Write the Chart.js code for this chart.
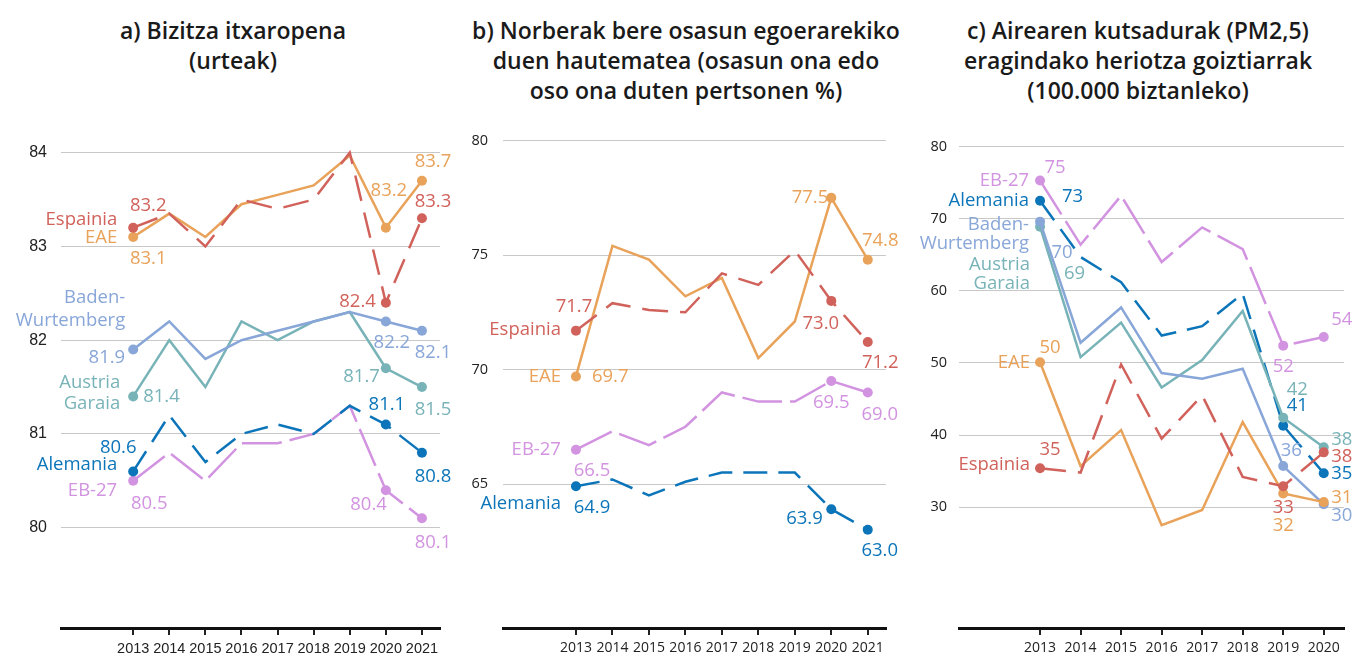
<!DOCTYPE html>
<html>
<head>
<meta charset="utf-8">
<script src="https://cdn.jsdelivr.net/npm/chart.js"></script>
<style>
  body { margin: 0; background: #fff; width: 1354px; height: 656px; position: relative; overflow: hidden; font-family: "Open Sans", sans-serif; }
  .title { position: absolute; top: 15px; width: 500px; text-align: center; font-size: 23px; font-weight: 600; line-height: 30px; color: #1a1a1a; }
  canvas { position: absolute; top: 100px; }
</style>
</head>
<body>
<div class="title" style="left:-17px">a) Bizitza itxaropena<br>(urteak)</div>
<div class="title" style="left:436px">b) Norberak bere osasun egoerarekiko<br>duen hautematea (osasun ona edo<br>oso ona duten pertsonen %)</div>
<div class="title" style="left:888px">c) Airearen kutsadurak (PM2,5)<br>eragindako heriotza goiztiarrak<br>(100.000 biztanleko)</div>
<canvas id="lifeChart" width="455" height="556" style="left:0px"></canvas>
<canvas id="healthChart" width="450" height="556" style="left:455px"></canvas>
<canvas id="pmChart" width="449" height="556" style="left:905px"></canvas>
<script>
// years on the x axis
const years = [2013, 2014, 2015, 2016, 2017, 2018, 2019, 2020, 2021];
const yearsPm = [2013, 2014, 2015, 2016, 2017, 2018, 2019, 2020];

// a) life expectancy (years)
const lifeEsp = [83.2, 83.35, 83.0, 83.5, 83.4, 83.5, 84.0, 82.4, 83.3];
const lifeEae = [83.1, 83.35, 83.1, 83.45, 83.55, 83.65, 83.97, 83.2, 83.7];
const lifeBw = [81.9, 82.2, 81.8, 82.0, 82.1, 82.2, 82.3, 82.2, 82.1];
const lifeAg = [81.4, 82.0, 81.5, 82.2, 82.0, 82.2, 82.3, 81.7, 81.5];
const lifeAl = [80.6, 81.2, 80.7, 81.0, 81.1, 81.0, 81.3, 81.1, 80.8];
const lifeEb = [80.5, 80.8, 80.5, 80.9, 80.9, 81.0, 81.3, 80.4, 80.1];

// b) self-perceived health (% good or very good)
const healthEsp = [71.7, 72.9, 72.6, 72.5, 74.2, 73.7, 75.2, 73.0, 71.2];
const healthEae = [69.7, 75.4, 74.8, 73.2, 74.0, 70.5, 72.1, 77.5, 74.8];
const healthEb = [66.5, 67.3, 66.7, 67.5, 69.0, 68.6, 68.6, 69.5, 69.0];
const healthAl = [64.9, 65.2, 64.5, 65.1, 65.5, 65.5, 65.5, 63.9, 63.0];

// c) premature deaths from PM2.5 (per 100.000)
const pmEsp = [35.4, 34.8, 49.8, 39.5, 45.5, 34.2, 32.9, 37.6];
const pmEae = [50.1, 35.7, 40.7, 27.5, 29.6, 41.8, 31.9, 30.7];
const pmBw = [69.6, 52.8, 57.7, 48.6, 47.8, 49.2, 35.7, 30.4];
const pmAg = [68.9, 50.8, 55.6, 46.6, 50.4, 57.2, 42.4, 38.3];
const pmAl = [72.5, 64.7, 61.2, 53.8, 55.1, 59.6, 41.3, 34.7];
const pmEb = [75.3, 66.4, 73.2, 64.0, 68.8, 65.8, 52.4, 53.6];

// y tick labels
const lifeTicks = [80, 81, 82, 83, 84];
const healthTicks = [65, 70, 75, 80];
const pmTicks = [30, 40, 50, 60, 70, 80];

const seriesNames = [['Espainia'], ['EAE'], ['Baden-', 'Wurtemberg'], ['Austria', 'Garaia'], ['Alemania'], ['EB-27']];

// styles
const seriesColors = ['#d1625b', '#e9a259', '#88a6d8', '#78b3b8', '#0c75b9', '#d293e0'];
const seriesDash = [[26, 12], [], [], [], [24, 11], [40, 8]];

function makeSet(k, xs, values, marks) {
    return {
        nameLines: seriesNames[k],
        data: xs.map((x, i) => ({ x: x, y: values[i] })),
        borderColor: seriesColors[k],
        backgroundColor: seriesColors[k],
        borderWidth: 2.5,
        borderDash: seriesDash[k],
        tension: 0,
        pointRadius: xs.map((x, i) => marks.includes(i) ? 5 : 0),
        pointHoverRadius: 0,
        pointBorderWidth: 0
    };
}

// draws the series names and value labels next to the points
function labelPlugin(items, fmt) {
    return {
        id: 'seriesLabels',
        afterDatasetsDraw(chart) {
            const ctx = chart.ctx;
            ctx.save();
            ctx.font = '18.5px "Open Sans"';
            ctx.textBaseline = 'middle';
            items.forEach(it => {
                const ds = chart.data.datasets[it.s];
                const pt = chart.getDatasetMeta(it.s).data[it.i];
                const lines = it.name ? ds.nameLines : [fmt(ds.data[it.i].y)];
                ctx.fillStyle = ds.borderColor;
                ctx.textAlign = it.a || 'center';
                lines.forEach((t, k) => ctx.fillText(t, pt.x + it.dx, pt.y + it.dy + k * (it.lh || 20)));
            });
            ctx.restore();
        }
    };
}

function makeChart(id, p) {
    return new Chart(document.getElementById(id).getContext('2d'), {
        type: 'line',
        data: { datasets: p.datasets },
        options: {
            responsive: false,
            animation: false,
            devicePixelRatio: 1,
            layout: { padding: { left: 0, top: 20, right: p.padRight, bottom: 0 } },
            plugins: { legend: { display: false }, tooltip: { enabled: false } },
            scales: {
                x: {
                    type: 'linear',
                    min: 2011,
                    max: p.xMax,
                    afterBuildTicks: s => { s.ticks = p.xs.map(v => ({ value: v })); },
                    afterFit: s => { s.height = 28; },
                    ticks: { autoSkip: false, maxRotation: 0, padding: 5, color: '#222', font: p.xFont, callback: v => String(v) },
                    grid: { drawOnChartArea: false, drawTicks: true, tickLength: 7, color: '#222', lineWidth: 2 },
                    border: { display: true, color: '#111', width: 3 }
                },
                y: {
                    min: p.yMin,
                    max: p.yMax,
                    afterBuildTicks: s => { s.ticks = p.yTicks.map(v => ({ value: v })); },
                    afterFit: s => { s.width = p.yWidth; },
                    ticks: { padding: p.tickPad, color: '#222', font: p.yFont, callback: v => String(v) },
                    grid: { color: '#c8c8c8', lineWidth: 1, drawTicks: false },
                    border: { display: false }
                }
            }
        },
        plugins: [labelPlugin(p.items, p.fmt)]
    });
}

const marks = [0, 7, 8];
const marksPm = [0, 6, 7];

const lifeChart = makeChart('lifeChart', {
    xs: years, xMax: 2021.5, yMin: 78.93, yMax: 84.31, yTicks: lifeTicks,
    yWidth: 61, padRight: 15, tickPad: 14,
    yFont: { family: 'Liberation Sans', size: 16 },
    xFont: { family: 'Liberation Sans', size: 14.5 },
    fmt: v => v.toFixed(1),
    datasets: [
        makeSet(0, years, lifeEsp, marks),
        makeSet(1, years, lifeEae, marks),
        makeSet(2, years, lifeBw, marks),
        makeSet(3, years, lifeAg, marks),
        makeSet(4, years, lifeAl, marks),
        makeSet(5, years, lifeEb, marks)
    ],
    items: [
        { s: 0, i: 0, name: true, a: 'right', dx: -16, dy: -8 },
        { s: 0, i: 0, dx: 15, dy: -22 },
        { s: 0, i: 7, a: 'right', dx: -10, dy: -1 },
        { s: 0, i: 8, dx: 11, dy: -17 },
        { s: 1, i: 0, name: true, a: 'right', dx: -16, dy: 1 },
        { s: 1, i: 0, dx: 15, dy: 22 },
        { s: 1, i: 7, dx: 3, dy: -37 },
        { s: 1, i: 8, dx: 11, dy: -19 },
        { s: 2, i: 0, name: true, a: 'right', dx: -8, dy: -52, lh: 23.5 },
        { s: 2, i: 0, a: 'right', dx: -8, dy: 8.5 },
        { s: 2, i: 7, dx: 6, dy: 21 },
        { s: 2, i: 8, dx: 11, dy: 22 },
        { s: 3, i: 0, name: true, a: 'right', dx: -13, dy: -14, lh: 21 },
        { s: 3, i: 0, a: 'left', dx: 10, dy: 0 },
        { s: 3, i: 7, a: 'right', dx: -6, dy: 8 },
        { s: 3, i: 8, dx: 11, dy: 23 },
        { s: 4, i: 0, name: true, a: 'right', dx: -16, dy: -7 },
        { s: 4, i: 0, dx: -15, dy: -24 },
        { s: 4, i: 7, dx: 1, dy: -20 },
        { s: 4, i: 8, dx: 11, dy: 24 },
        { s: 5, i: 0, name: true, a: 'right', dx: -16, dy: 10 },
        { s: 5, i: 0, dx: 16, dy: 23 },
        { s: 5, i: 7, a: 'right', dx: 1, dy: 15 },
        { s: 5, i: 8, dx: 11, dy: 24 }
    ]
});

const healthChart = makeChart('healthChart', {
    xs: years, xMax: 2021.5, yMin: 58.71, yMax: 80.74, yTicks: healthTicks,
    yWidth: 48, padRight: 19, tickPad: 15,
    yFont: { family: 'Open Sans', size: 14.5 },
    xFont: { family: 'Open Sans', size: 14 },
    fmt: v => v.toFixed(1),
    datasets: [
        makeSet(0, years, healthEsp, marks),
        makeSet(1, years, healthEae, marks),
        makeSet(5, years, healthEb, marks),
        makeSet(4, years, healthAl, marks)
    ],
    items: [
        { s: 0, i: 0, name: true, a: 'right', dx: -15, dy: -1 },
        { s: 0, i: 0, dx: -2, dy: -24 },
        { s: 0, i: 7, dx: -10.5, dy: 23 },
        { s: 0, i: 8, dx: 12.5, dy: 21 },
        { s: 1, i: 0, name: true, a: 'right', dx: -15, dy: 0 },
        { s: 1, i: 0, a: 'left', dx: 16, dy: 0 },
        { s: 1, i: 7, a: 'right', dx: -3, dy: 0 },
        { s: 1, i: 8, dx: 12.5, dy: -18.5 },
        { s: 2, i: 0, name: true, a: 'right', dx: -15, dy: 0 },
        { s: 2, i: 0, dx: 16, dy: 21 },
        { s: 2, i: 7, dx: 0, dy: 22 },
        { s: 2, i: 8, dx: 12, dy: 22 },
        { s: 3, i: 0, name: true, a: 'right', dx: -15, dy: 17 },
        { s: 3, i: 0, dx: 16, dy: 21 },
        { s: 3, i: 7, a: 'right', dx: -8.5, dy: 10 },
        { s: 3, i: 8, dx: 12, dy: 21 }
    ]
});

const pmChart = makeChart('pmChart', {
    xs: yearsPm, xMax: 2020.5, yMin: 13.24, yMax: 83.6, yTicks: pmTicks,
    yWidth: 54, padRight: 10, tickPad: 12,
    yFont: { family: 'Open Sans', size: 14.5 },
    xFont: { family: 'Open Sans', size: 14 },
    fmt: v => String(Math.round(v)),
    datasets: [
        makeSet(0, yearsPm, pmEsp, marksPm),
        makeSet(1, yearsPm, pmEae, marksPm),
        makeSet(2, yearsPm, pmBw, marksPm),
        makeSet(3, yearsPm, pmAg, marksPm),
        makeSet(4, yearsPm, pmAl, marksPm),
        makeSet(5, yearsPm, pmEb, marksPm)
    ],
    items: [
        { s: 0, i: 0, name: true, a: 'right', dx: -10, dy: -3 },
        { s: 0, i: 0, dx: 10, dy: -18 },
        { s: 0, i: 6, dx: 0, dy: 21.5 },
        { s: 0, i: 7, dx: 18, dy: 4 },
        { s: 1, i: 0, name: true, a: 'right', dx: -10, dy: 0 },
        { s: 1, i: 0, dx: 10, dy: -15 },
        { s: 1, i: 6, dx: 0, dy: 32 },
        { s: 1, i: 7, dx: 18, dy: -4 },
        { s: 2, i: 0, name: true, a: 'right', dx: -11, dy: 3, lh: 19 },
        { s: 2, i: 0, dx: 22, dy: 31 },
        { s: 2, i: 6, dx: 8, dy: -15 },
        { s: 2, i: 7, dx: 18, dy: 11 },
        { s: 3, i: 0, name: true, a: 'right', dx: -10, dy: 38, lh: 19.3 },
        { s: 3, i: 0, dx: 34.5, dy: 47 },
        { s: 3, i: 6, dx: 14, dy: -28 },
        { s: 3, i: 7, dx: 18, dy: -8 },
        { s: 4, i: 0, name: true, a: 'right', dx: -11, dy: 0 },
        { s: 4, i: 0, dx: 32.5, dy: -3.5 },
        { s: 4, i: 6, dx: 14, dy: -20 },
        { s: 4, i: 7, dx: 18, dy: 0 },
        { s: 5, i: 0, name: true, a: 'right', dx: -11, dy: 0 },
        { s: 5, i: 0, dx: 15, dy: -12.5 },
        { s: 5, i: 6, dx: 0, dy: 21 },
        { s: 5, i: 7, dx: 18, dy: -17 }
    ]
});
</script>
</body>
</html>
